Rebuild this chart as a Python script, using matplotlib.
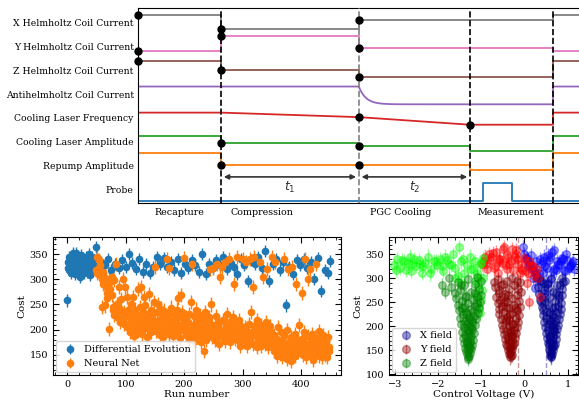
import matplotlib
matplotlib.use('Agg')
import matplotlib.pyplot as plt
from matplotlib.ticker import AutoMinorLocator, MultipleLocator
import numpy as np

plt.rcParams['font.family'] = 'serif'
plt.rcParams['font.serif'] = ['DejaVu Serif']
plt.rcParams['mathtext.fontset'] = 'dejavusans'

# ---------------- timing diagram data ----------------
phase_bounds = [0, 1, 2.66, 4, 5, 5.4]
phase_names = ['Recapture', 'Compression', 'PGC Cooling', 'Measurement']
phase_label_x = [0.5, 1.49, 3.16, 4.49]
row_labels = ['X Helmholtz Coil Current', 'Y Helmholtz Coil Current',
              'Z Helmholtz Coil Current', 'Antihelmholtz Coil Current',
              'Cooling Laser Frequency', 'Cooling Laser Amplitude',
              'Repump Amplitude', 'Probe']
row_pos = [7, 6, 5, 4, 3, 2, 1, 0]

# start / end level of each signal in each phase (rec, comp, pgc, meas, after)
x_start = [7.34, 6.75, 7.13, 7.13, 7.34]
x_end = [7.34, 6.75, 7.13, 7.13, 7.34]
y_start = [5.82, 6.43, 5.96, 5.96, 5.82]
y_end = [5.82, 6.43, 5.96, 5.96, 5.82]
z_start = [5.41, 5.02, 4.71, 4.71, 5.40]
z_end = [5.41, 5.02, 4.71, 4.71, 5.40]
anti_start = [4.32, 4.32, 4.32, 3.57, 4.32]
anti_end = [4.32, 4.32, 3.57, 3.57, 4.32]
anti_tau = 0.085
freq_start = [3.22, 3.22, 3.03, 2.71, 3.22]
freq_end = [3.22, 3.03, 2.71, 2.71, 3.22]
amp_start = [2.24, 1.93, 1.83, 1.62, 2.24]
amp_end = [2.24, 1.93, 1.83, 1.62, 2.24]
rep_start = [1.53, 1.01, 1.01, 0.80, 1.53]
rep_end = [1.53, 1.01, 1.01, 0.80, 1.53]
probe_base = -0.49
probe_high = 0.24
probe_on = [4.16, 4.50]

# parameter dots: (signal, phase index whose start value is marked)
dot_list = [('x', 0), ('y', 0), ('z', 0), ('x', 1), ('y', 1), ('z', 1),
            ('amp', 1), ('rep', 1), ('x', 2), ('y', 2), ('z', 2),
            ('freq', 2), ('amp', 2), ('rep', 2), ('freq', 3)]
arrow_y = 0.51
t_label_y = 0.08

# ---------------- optimisation run data ----------------
de_init_cost = [258, 322, 335, 318, 345, 328, 312, 340, 325, 330, 352, 318, 335, 322,
                310, 345, 353, 328, 315, 338, 325, 332, 305, 348, 320, 335, 318, 342,
                328, 312, 337, 322, 345, 330, 315, 340, 326, 318, 350, 332, 308, 335,
                322, 345, 328, 316, 338, 325, 330, 365]
de_later_run = [53, 58, 64, 70, 75, 82, 88, 94, 100, 105, 111, 117, 123, 129, 135, 141,
                147, 153, 159, 165, 171, 177, 183, 189, 195, 201, 207, 213, 219, 225,
                231, 237, 243, 249, 255, 261, 267, 273, 279, 285, 291, 297, 303, 309,
                315, 321, 327, 333, 339, 345, 351, 357, 363, 369, 374, 380, 386, 392,
                398, 404, 410, 416, 422, 428, 434, 440, 446, 449]
de_later_cost = [320, 335, 328, 340, 318, 330, 322, 338, 325, 350, 332, 320, 340, 315,
                 330, 312, 325, 345, 330, 342, 325, 335, 318, 340, 312, 330, 322, 338,
                 328, 315, 350, 310, 330, 322, 338, 328, 345, 320, 335, 325, 310, 340,
                 328, 297, 338, 330, 345, 322, 356, 297, 330, 340, 318, 335, 248, 325,
                 310, 338, 328, 340, 322, 335, 300, 342, 276, 318, 312, 337]

nn_cost_050 = [318, 345, 312, 338, 322, 308, 328, 300, 245, 315, 290, 305, 248, 285,
               300, 272, 262, 202, 300, 280, 295, 305, 268, 245, 240, 298, 230, 330,
               245, 225, 250, 238, 285, 215, 242, 228, 260, 222, 300, 235, 212, 285]
nn_cost_100 = [228, 205, 265, 240, 212, 195, 232, 218, 250, 200, 265, 222, 188, 240,
               208, 230, 214, 280, 198, 245, 226, 285, 210, 192, 236, 220, 265, 204,
               248, 215, 186, 232, 222, 270, 208, 240, 196, 225, 212, 255, 218]
nn_cost_150 = [325, 212, 198, 235, 250, 205, 220, 190, 242, 215, 200, 228, 185, 238,
               210, 196, 225, 340, 206, 232, 322, 192, 218, 244, 202, 214, 188, 230,
               208, 222, 195, 240, 212, 262, 198, 226, 184, 268, 210, 235, 200, 218]
nn_cost_200 = [342, 205, 190, 225, 198, 215, 182, 232, 200, 255, 188, 330, 210, 195,
               228, 178, 205, 240, 192, 218, 185, 202, 230, 175, 212, 196, 222, 188,
               158, 208, 235, 180, 200, 215, 190, 226, 320, 198, 250, 185, 210]
nn_cost_250 = [322, 195, 210, 180, 228, 330, 190, 205, 172, 215, 305, 198, 325, 185,
               220, 200, 335, 178, 210, 192, 232, 188, 205, 340, 175, 218, 196, 210,
               185, 225, 290, 182, 200, 212, 345, 190, 178, 220, 195, 168, 208, 186]
nn_cost_300 = [190, 340, 175, 205, 182, 335, 198, 168, 212, 186, 340, 178, 235, 195,
               285, 172, 208, 345, 188, 200, 165, 220, 182, 196, 335, 175, 210, 168,
               190, 305, 202, 185, 172, 215, 320, 180, 198, 165, 208, 188, 175, 195]
nn_cost_350 = [345, 172, 158, 190, 165, 335, 148, 182, 160, 205, 170, 152, 195, 162,
               178, 145, 188, 340, 155, 168, 142, 200, 160, 320, 175, 150, 185, 138,
               165, 325, 172, 158, 192, 148, 290, 168, 180, 155, 210, 162, 175]
nn_cost_400 = [165, 272, 182, 150, 195, 340, 160, 172, 145, 300, 188, 155, 168, 320,
               148, 178, 192, 158, 140, 170, 185, 152, 330, 165, 175, 148, 198, 160,
               182, 145, 172, 155, 190, 162, 150, 178, 168, 145, 185, 158, 165]
nn_blocks = [(50, nn_cost_050), (100, nn_cost_100), (150, nn_cost_150),
             (200, nn_cost_200), (250, nn_cost_250), (300, nn_cost_300),
             (350, nn_cost_350), (400, nn_cost_400)]
de_err = 12
nn_err = 14

# ---------------- control voltage data ----------------
zde_v = [-3.02, -2.95, -2.88, -2.80, -2.74, -2.66, -2.60, -2.52, -2.45, -2.38, -2.30,
         -2.24, -2.16, -2.10, -2.02, -1.95, -1.88, -1.80, -1.74, -1.66, -1.60, -1.52,
         -1.46, -1.40, -1.33, -1.26, -1.20, -1.14, -1.08, -1.02, -0.97, -2.98, -2.70,
         -2.55, -2.35, -2.20, -2.05, -1.85, -1.70, -1.55, -1.42, -1.25, -1.10, -1.00,
         -2.85, -2.62, -2.42, -1.92, -1.62, -1.48, -1.05, -1.00, -1.12, -0.98, -1.08,
         -1.15, -1.02, -0.96]
zde_c = [328, 340, 322, 335, 318, 345, 330, 325, 338, 312, 332, 345, 320, 335, 328, 340,
         315, 338, 330, 350, 322, 365, 335, 310, 328, 345, 320, 335, 300, 330, 342, 318,
         332, 340, 325, 310, 335, 345, 328, 305, 340, 320, 310, 332, 338, 315, 330, 325,
         300, 290, 240, 255, 265, 275, 285, 295, 228, 300]
znn_v = [-1.30, -1.28, -1.33, -1.26, -1.35, -1.30, -1.24, -1.37, -1.29, -1.32,
         -1.22, -1.40, -1.27, -1.34, -1.20, -1.42, -1.30, -1.25, -1.38, -1.18, -1.44,
         -1.29, -1.33, -1.21, -1.40, -1.27,
         -1.15, -1.47, -1.32, -1.22, -1.38, -1.12, -1.50, -1.28, -1.18, -1.43, -1.08,
         -1.35, -1.52, -1.24, -1.05, -1.40, -1.15, -1.55, -1.30, -1.02,
         -1.45, -1.20, -1.58, -1.10, -1.35, -1.00, -1.62, -1.25, -1.50, -1.05, -1.84,
         -1.92, -1.70, -1.40, -1.15, -1.55, -1.00, -1.30, -1.75, -1.10,
         -1.31, -1.27, -1.34, -1.29, -1.24, -1.36, -1.26, -1.33, -1.20, -1.45, -1.11,
         -1.38, -1.15, -1.48]
znn_c = [132, 138, 142, 145, 148, 150, 152, 155, 158, 160,
         162, 165, 168, 170, 172, 175, 178, 180, 182, 185, 188, 190, 192, 195, 198, 200,
         202, 205, 208, 210, 212, 215, 218, 220, 222, 225, 228, 230, 233, 235, 238, 240,
         242, 245, 248, 250,
         252, 255, 258, 260, 263, 266, 270, 272, 275, 278, 272, 286, 282, 285, 288, 292,
         295, 298, 300, 302,
         136, 155, 165, 185, 198, 205, 215, 225, 232, 238, 248, 262, 270, 285]
yde_v = [-0.98, -0.92, -0.86, -0.80, -0.74, -0.68, -0.62, -0.56, -0.50, -0.44, -0.38,
         -0.32, -0.26, -0.20, -0.14, -0.08, -0.02, 0.04, 0.10, 0.16, 0.22, 0.28, -0.95,
         -0.83, -0.71, -0.59, -0.47, -0.35, -0.23, -0.11, 0.01, 0.13, 0.25, -0.89, -0.65,
         -0.41, -0.17, 0.07, 0.19, -0.77, -0.53, -0.29, -0.05, 0.31, 0.10, 0.35, 0.05,
         -0.60, -0.40, -0.20]
yde_c = [330, 345, 320, 338, 352, 325, 310, 340, 360, 328, 345, 335, 318, 350, 330, 322,
         342, 315, 335, 328, 305, 320, 335, 350, 322, 340, 365, 330, 345, 312, 338, 325,
         310, 330, 355, 320, 340, 310, 325, 345, 332, 360, 318, 300, 250, 262, 290, 335,
         348, 358]
ynn_v = [-0.33, -0.30, -0.36, -0.31, -0.38, -0.28, -0.34, -0.40, -0.27, -0.32,
         -0.42, -0.25, -0.35, -0.30, -0.45, -0.22, -0.38, -0.28, -0.48, -0.20, -0.33,
         -0.41, -0.25, -0.50, -0.18, -0.36,
         -0.52, -0.28, -0.14, -0.44, -0.35, -0.55, -0.20, -0.40, -0.12, -0.58, -0.30,
         -0.47, -0.17, -0.60, -0.36, -0.10, -0.52, -0.25, -0.62, -0.40,
         -0.12, -0.56, -0.30, -0.65, -0.18, -0.45, -0.08, -0.60, -0.35, -0.68, -0.25,
         -0.50, -0.10, -0.40, -0.62, -0.30, -0.55, -0.16, -0.70, -0.48,
         -0.34, -0.29, -0.37, -0.31, -0.27, -0.42, -0.33, -0.22, -0.48, -0.38, -0.18,
         -0.58, -0.44, -0.31]
ynn_c = [135, 140, 143, 147, 150, 152, 155, 158, 160, 138,
         163, 165, 168, 170, 173, 175, 178, 180, 183, 185, 188, 190, 193, 195, 198, 200,
         203, 205, 208, 210, 213, 215, 218, 220, 223, 225, 228, 230, 233, 235, 238, 240,
         243, 245, 248, 250,
         252, 255, 258, 262, 265, 268, 272, 275, 278, 282, 285, 288, 292, 295, 298, 300,
         285, 278, 292, 262,
         145, 158, 172, 190, 205, 215, 225, 238, 250, 265, 295, 270, 240, 182]
xde_v = [-0.03, 0.03, 0.09, 0.15, 0.21, 0.27, 0.33, 0.39, 0.45, 0.51, 0.57, 0.63, 0.69,
         0.75, 0.81, 0.87, 0.93, 0.99, 1.05, 1.11, 1.15, 0.00, 0.12, 0.24, 0.36, 0.48,
         0.60, 0.72, 0.84, 0.96, 1.08, 0.06, 0.18, 0.30, 0.42, 0.54, 0.66, 0.78, 0.90,
         1.02, 1.13, 0.20, 0.44, 0.68, 0.92, 0.35, 0.25, 0.45, 0.55, 0.62]
xde_c = [365, 340, 325, 348, 318, 335, 310, 330, 345, 322, 338, 355, 320, 335, 328, 342,
         315, 338, 325, 332, 320, 350, 330, 312, 340, 325, 345, 318, 335, 350, 328, 342,
         320, 305, 335, 348, 315, 330, 340, 322, 335, 300, 310, 358, 318, 295, 280, 270,
         290, 300]
xnn_v = [0.62, 0.60, 0.64, 0.59, 0.66, 0.57, 0.63, 0.68, 0.56, 0.61,
         0.70, 0.55, 0.64, 0.58, 0.72, 0.52, 0.66, 0.60, 0.74, 0.50, 0.63, 0.69, 0.55,
         0.76, 0.48, 0.65,
         0.78, 0.56, 0.46, 0.71, 0.62, 0.80, 0.50, 0.68, 0.44, 0.82, 0.58, 0.74, 0.42,
         0.84, 0.64, 0.40, 0.77, 0.54, 0.85, 0.38,
         0.70, 0.36, 0.80, 0.58, 0.86, 0.34, 0.66, 0.45, 0.88, 0.32, 0.75, 0.52, 0.90,
         0.40, 0.62, 0.30, 0.83, 0.48, 0.95, 0.72,
         0.61, 0.65, 0.58, 0.67, 0.60, 0.52, 0.70, 0.63, 0.47, 0.78, 0.55, 0.86, 0.42,
         0.66]
xnn_c = [135, 140, 143, 147, 150, 152, 155, 158, 160, 138,
         163, 165, 168, 170, 173, 175, 178, 180, 183, 185, 188, 190, 193, 195, 198, 200,
         203, 205, 208, 210, 213, 215, 218, 220, 223, 225, 228, 230, 233, 235, 238, 240,
         243, 245, 248, 250,
         252, 255, 258, 262, 265, 268, 272, 275, 278, 282, 285, 288, 292, 295, 298, 300,
         285, 262, 295, 270,
         145, 162, 178, 195, 210, 230, 240, 225, 250, 265, 280, 300, 290, 205]
volt_err = 15
opt_lines = [(-0.16, 'darkred'), (0.49, 'darkblue')]

# =============== figure ===============
fig = plt.figure(figsize=(5.79, 4.05), dpi=100)

ax = fig.add_axes([138 / 579, 1 - 203 / 405, 443 / 579, 195 / 405])
ax.set_xlim(0, 443 / 83)
ax.set_ylim(-0.59, 7.63)
lw = 1.3


def draw_signal(starts, ends, color, special=None):
    xs, ys = [], []
    for i in range(len(starts)):
        a, b = phase_bounds[i], phase_bounds[i + 1]
        if special is not None and i == special:
            tt = np.linspace(a, b, 200)
            vv = ends[i] + (starts[i] - ends[i]) * np.exp(-(tt - a) / anti_tau)
            xs.extend(tt)
            ys.extend(vv)
        else:
            xs.extend([a, b])
            ys.extend([starts[i], ends[i]])
    ax.plot(xs, ys, color=color, lw=lw, zorder=2)


signals = {'x': (x_start, x_end, 'C7'), 'y': (y_start, y_end, 'C6'),
           'z': (z_start, z_end, 'C5'), 'anti': (anti_start, anti_end, 'C4'),
           'freq': (freq_start, freq_end, 'C3'), 'amp': (amp_start, amp_end, 'C2'),
           'rep': (rep_start, rep_end, 'C1')}
for key, (s, e, c) in signals.items():
    draw_signal(s, e, c, special=2 if key == 'anti' else None)

px = [0, probe_on[0], probe_on[0], probe_on[1], probe_on[1], phase_bounds[-1]]
py = [probe_base, probe_base, probe_high, probe_high, probe_base, probe_base]
ax.plot(px, py, color='C0', lw=lw, zorder=2)

for key, ph in dot_list:
    ax.plot(phase_bounds[ph], signals[key][0][ph], 'o', color='black', ms=5,
            zorder=5, clip_on=False)

for xb, col in zip(phase_bounds[1:5], ['black', 'grey', 'black', 'black']):
    ax.axvline(xb, color=col, ls='--', lw=1.2, zorder=3)

for a, b, lab in [(phase_bounds[1], phase_bounds[2], '$t_1$'),
                  (phase_bounds[2], phase_bounds[3], '$t_2$')]:
    ax.annotate('', xy=(b, arrow_y), xytext=(a, arrow_y),
                arrowprops=dict(arrowstyle='<|-|>', color='#333333', lw=1.2,
                                shrinkA=2, shrinkB=2, mutation_scale=7))
    ax.text((a + b) / 2, t_label_y, lab, ha='center', va='center', fontsize=9,
            color='#333333')

for name, xl in zip(phase_names, phase_label_x):
    ax.text(xl, -0.048, name, transform=ax.get_xaxis_transform(), ha='center',
            va='center', fontsize=6.8)

ax.set_yticks(row_pos)
ax.set_yticklabels(row_labels, fontsize=6.7)
ax.set_xticks([])
ax.tick_params(axis='y', length=0, pad=3)
ax.spines['right'].set_visible(False)

# ---------- bottom left ----------
def style(a):
    a.tick_params(which='both', direction='in', top=True, right=True, labelsize=7)
    a.tick_params(which='major', length=4)
    a.tick_params(which='minor', length=2)
    a.xaxis.set_minor_locator(AutoMinorLocator())
    a.yaxis.set_minor_locator(AutoMinorLocator())


ax2 = fig.add_axes([53 / 579, 30 / 405, 288 / 579, 138 / 405])
de_run = list(range(len(de_init_cost))) + de_later_run
de_cost = de_init_cost + de_later_cost
de_set = set(de_run)
nn_run, nn_cost = [], []
for start, block in nn_blocks:
    runs = [r for r in range(start, start + 50) if r not in de_set]
    for r, c in zip(runs, block):
        nn_run.append(r)
        nn_cost.append(c)

ax2.errorbar(de_run, de_cost, yerr=de_err, fmt='o', ms=4.5, color='C0',
             elinewidth=1, label='Differential Evolution')
ax2.errorbar(nn_run, nn_cost, yerr=nn_err, fmt='o', ms=4.5, color='C1',
             elinewidth=1, label='Neural Net')
ax2.set_ylim(110, 384)
ax2.set_xlim(-24, 468)
ax2.xaxis.set_major_locator(MultipleLocator(100))
ax2.yaxis.set_major_locator(MultipleLocator(50))
style(ax2)
ax2.set_xlabel('Run number', fontsize=7.5, labelpad=1)
ax2.set_ylabel('Cost', fontsize=7.5, labelpad=2)
ax2.legend(loc='lower left', fontsize=7, framealpha=0.8, borderaxespad=0.3,
           handletextpad=0.5)

# ---------- bottom right ----------
ax3 = fig.add_axes([389 / 579, 30 / 405, 189 / 579, 138 / 405])
alpha = 0.4
for (dv, dc, bright), (nv, nc, dark), lab in [
        ((xde_v, xde_c, 'blue'), (xnn_v, xnn_c, 'darkblue'), 'X field'),
        ((yde_v, yde_c, 'red'), (ynn_v, ynn_c, 'darkred'), 'Y field'),
        ((zde_v, zde_c, 'lime'), (znn_v, znn_c, 'green'), 'Z field')]:
    ax3.errorbar(dv, dc, yerr=volt_err, fmt='o', ms=5.5, color=bright, alpha=alpha,
                 elinewidth=1)
    ax3.errorbar(nv, nc, yerr=volt_err, fmt='o', ms=5.5, color=dark, alpha=alpha,
                 elinewidth=1, label=lab)
for xv, col in opt_lines:
    ax3.axvline(xv, color=col, ls='--', lw=1, alpha=0.4)
ax3.set_xlim(-3.14, 1.24)
ax3.set_ylim(98.5, 386)
ax3.xaxis.set_major_locator(MultipleLocator(1))
ax3.yaxis.set_major_locator(MultipleLocator(50))
style(ax3)
ax3.set_xlabel('Control Voltage (V)', fontsize=7.5, labelpad=1)
ax3.set_ylabel('Cost', fontsize=7.5, labelpad=2)
ax3.legend(loc='lower left', fontsize=7, framealpha=0.8, borderaxespad=0.3,
           handletextpad=0.5)

fig.savefig('out.png', dpi=100)
